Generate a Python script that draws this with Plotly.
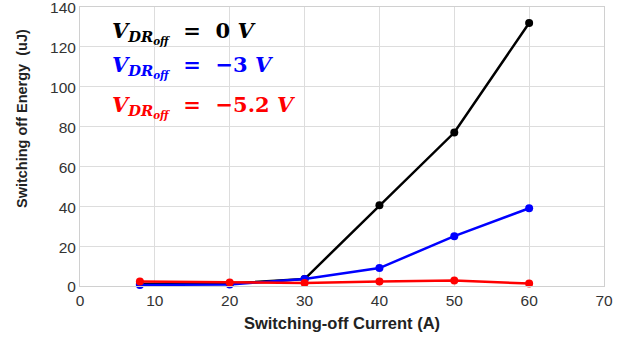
import plotly.graph_objects as go

current = [8, 20, 30, 40, 50, 60]
e_0v = [1.0, 1.2, 3.5, 40.5, 77.0, 132.0]
e_m3v = [0.5, 0.8, 3.5, 9.0, 25.0, 39.0]
e_m52v = [2.3, 1.8, 1.5, 2.3, 2.8, 1.2]

x_ticks = [0, 10, 20, 30, 40, 50, 60, 70]
y_ticks = [0, 20, 40, 60, 80, 100, 120, 140]

series_names = ["0", "\u22123", "\u22125.2"]
series_colors = ["black", "blue", "red"]

fig = go.Figure()
for ys, name, col in zip([e_0v, e_m3v, e_m52v], series_names, series_colors):
    fig.add_trace(go.Scatter(x=current, y=ys, mode="lines+markers",
                             line=dict(color=col, width=2.5),
                             marker=dict(color=col, size=8),
                             name=name, showlegend=False, cliponaxis=False))

label_y = [0.907, 0.786, 0.644]
for name, col, yy in zip(series_names, series_colors, label_y):
    txt = ("<b><i>V</i></b><sub><b><i>DR<sub>off</sub></i></b></sub>"
           "<b>  =  " + name + " </b><b><i>V</i></b>")
    fig.add_annotation(x=0.058, y=yy, xref="paper", yref="paper",
                       xanchor="left", yanchor="middle", showarrow=False,
                       text=txt,
                       font=dict(family="DejaVu Serif", size=21, color=col))

# y-axis title (placed slightly above the axis centre, as in the reference)
fig.add_annotation(x=-0.1107, y=0.602, xref="paper", yref="paper",
                   xanchor="center", yanchor="middle", showarrow=False,
                   textangle=-90, text="<b>Switching off Energy  (uJ)</b>",
                   font=dict(family="Liberation Sans, Arial", size=14.5, color="#222"))

fig.update_layout(
    width=621, height=338,
    margin=dict(l=80, r=17, t=7, b=52),
    plot_bgcolor="white", paper_bgcolor="white",
    font=dict(family="Liberation Sans, Arial", color="#333"),
)
fig.update_xaxes(range=[0, 70], tickvals=x_ticks, showgrid=True, gridcolor="#dddddd",
                 gridwidth=1, zeroline=False, showline=True, linecolor="#d0d0d0",
                 mirror=True, automargin=False, ticks="", ticklabeloverflow="allow",
                 tickfont=dict(size=15.5, color="#333"),
                 title=dict(text="<b>Switching-off Current (A)</b>",
                            font=dict(size=16.5, color="#222"), standoff=9))
fig.update_yaxes(range=[0, 140], tickvals=y_ticks, showgrid=True, gridcolor="#dddddd",
                 gridwidth=1, zeroline=False, showline=True, linecolor="#d0d0d0",
                 mirror=True, automargin=False, ticks="", ticklabeloverflow="allow",
                 ticklabelshift=1, tickfont=dict(size=15.5, color="#333"))
fig.write_html("out.html", config={"displayModeBar": False},
               post_script="document.body.style.margin='0';document.body.style.padding='0';")
